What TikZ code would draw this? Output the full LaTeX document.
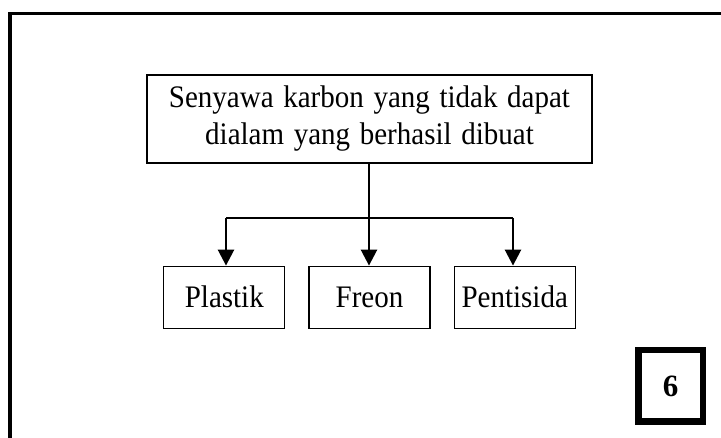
\documentclass[tikz,border=0pt]{standalone}
\usepackage{fontspec}
\setmainfont{Liberation Serif}
\usetikzlibrary{positioning}
\usetikzlibrary{arrows.meta}
\newcommand{\tinggi}[1]{\scalebox{1}[1.08]{#1}}
\begin{document}
\begin{tikzpicture}[x=1pt,y=-1pt,
        box/.style={draw,rectangle,line width=1.2pt,inner sep=0pt,
            minimum width=121pt,minimum height=62pt,
            font=\fontsize{29}{36}\selectfont},
        head/.style={draw,rectangle,line width=1.2pt,inner sep=0pt,
            minimum width=445pt,minimum height=88pt,text width=440pt,align=center,
            font=\fontsize{29}{37}\selectfont},
        link/.style={line width=2.6pt,-{Triangle[length=16pt,width=16pt]}}]
    \useasboundingbox (0,0) rectangle (721,438);
    \clip (0,0) rectangle (721,438);
    % outer frame, cut off at right and bottom
    \draw [line width=3.8pt] (10,460) -- (10,13.5) -- (740,13.5);
    \node (judul) [head] at (369.5,119)
        {\tinggi{Senyawa karbon yang tidak dapat}\\ \tinggi{dialam yang berhasil dibuat}};
    \node (freon) [box,below=102pt of judul] {\tinggi{Freon}};
    \node (plastik) [box,left=23pt of freon] {\tinggi{Plastik}};
    \node (pestisida) [box,right=23pt of freon] {\tinggi{Pentisida}};
    \coordinate (cabang) at (369,218);
    \coordinate (kiri) at (226,218);
    \coordinate (kanan) at (513,218);
    \draw [line width=1.2pt] (judul.south -| cabang) -- (cabang);
    \draw [line width=2.6pt] (kiri) -- (kanan);
    \draw [link] (kiri) -- (kiri |- plastik.north);
    \draw [link] (cabang) -- (cabang |- freon.north);
    \draw [link] (kanan) -- (kanan |- pestisida.north);
    \node (halaman) [draw,line width=6.5pt,minimum width=64.5pt,minimum height=71.5pt,
        font=\fontsize{31}{36}\selectfont\bfseries] at (670.5,386) {6};
\end{tikzpicture}
\end{document}
